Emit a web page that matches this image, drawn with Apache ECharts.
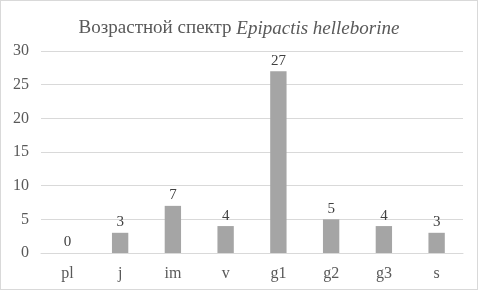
<!DOCTYPE html>
<html>
<head>
<meta charset="utf-8">
<script src="https://cdn.jsdelivr.net/npm/echarts@6/dist/echarts.min.js"></script>
<style>
html, body { margin: 0; padding: 0; background: #fff; }
#chart { width: 478px; height: 290px; box-sizing: border-box; border: 1px solid #d9d9d9; }
</style>
</head>
<body>
<div id="chart"></div>
<script>
const categories = ['pl', 'j', 'im', 'v', 'g1', 'g2', 'g3', 's']
const counts = [0, 3, 7, 4, 27, 5, 4, 3]
const yTicks = { min: 0, max: 30, interval: 5 }

const myChart = echarts.init(document.getElementById('chart'))
const font = '"Liberation Serif", "Times New Roman", serif'
const option = {
	animation: false,
	title: {
		text: '{n|Возрастной спектр }{i|Epipactis helleborine}',
		left: 'center',
		top: 13,
		textStyle: {
			rich: {
				n: { fontFamily: font, fontSize: 19, fontWeight: 'normal', color: '#595959' },
				i: { fontFamily: font, fontSize: 19, fontWeight: 'normal', color: '#595959', fontStyle: 'italic' }
			}
		}
	},
	grid: { left: 40, right: 14, top: 50, bottom: 36 },
	xAxis: {
		type: 'category',
		data: categories,
		axisTick: { show: false },
		axisLine: { lineStyle: { color: '#d9d9d9' } },
		axisLabel: { fontFamily: font, fontSize: 16, color: '#595959', margin: 13 }
	},
	yAxis: {
		type: 'value',
		min: yTicks.min,
		max: yTicks.max,
		interval: yTicks.interval,
		axisLabel: { fontFamily: font, fontSize: 16, color: '#595959', margin: 12 },
		splitLine: { lineStyle: { color: '#d9d9d9' } }
	},
	series: [{
		type: 'bar',
		data: counts,
		barWidth: '31%',
		itemStyle: { color: '#a5a5a5' },
		label: { show: true, position: 'top', fontFamily: font, fontSize: 15, color: '#404040', distance: 3 }
	}]
}
myChart.setOption(option)
</script>
</body>
</html>
